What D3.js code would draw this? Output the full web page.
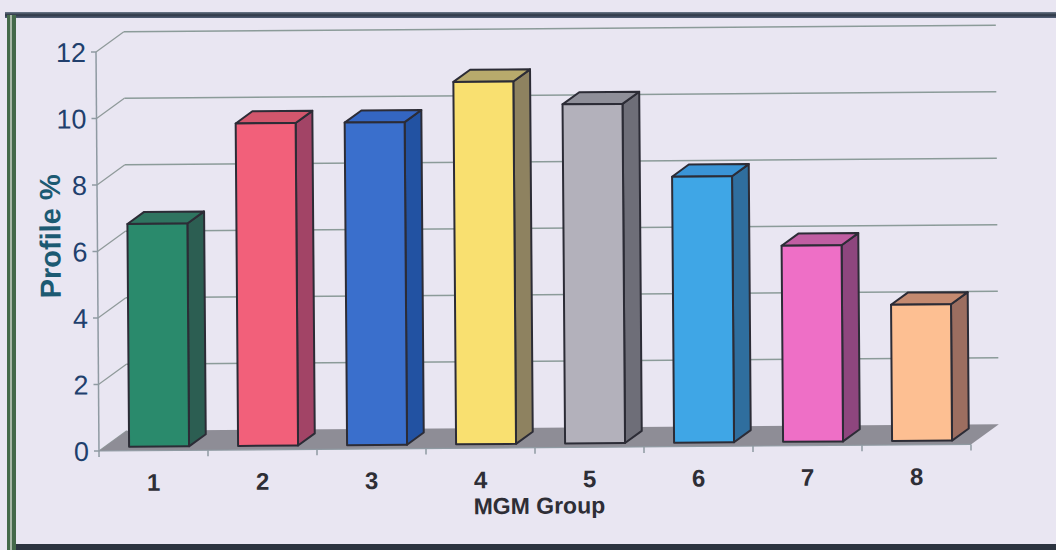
<!DOCTYPE html>
<html>
<head>
<meta charset="utf-8">
<script src="https://cdn.jsdelivr.net/npm/d3@7"></script>
<style>
  html, body { margin: 0; padding: 0; background: #e9e6f2; }
  svg { display: block; }
</style>
</head>
<body>
<svg id="chart" width="1056" height="550"></svg>
<script>
// MGM group profile shares (%)
const groups = ["1", "2", "3", "4", "5", "6", "7", "8"];
const profile = [6.7, 9.7, 9.7, 10.9, 10.2, 8.0, 5.9, 4.1];
const yTicks = [0, 2, 4, 6, 8, 10, 12];

// face colours per column: front, side, top
const frontFill = ["#2a8a6c", "#f2607a", "#3a6fcc", "#f9e070", "#b3b1bb", "#3fa6e6", "#ee6fc6", "#fdbf92"];
const sideFill  = ["#2c5e52", "#a24466", "#2252a2", "#8e8260", "#6e6e78", "#2f6e9e", "#8e467e", "#9c6e60"];
const topFill   = ["#2f7460", "#d2566c", "#3466c2", "#b8aa6c", "#8f8f99", "#3a94d6", "#c05ea2", "#c48a70"];

const svg = d3.select("#chart");

// page frame
svg.append("rect").attr("x", 0).attr("y", 0).attr("width", 1056).attr("height", 550).attr("fill", "#e9e6f2");
const grad = svg.append("defs").append("linearGradient").attr("id", "topBar").attr("x1", 0).attr("y1", 0).attr("x2", 0).attr("y2", 1);
grad.append("stop").attr("offset", "0%").attr("stop-color", "#6d7a8c");
grad.append("stop").attr("offset", "50%").attr("stop-color", "#2c3644");
grad.append("stop").attr("offset", "100%").attr("stop-color", "#55627a");
svg.append("rect").attr("x", 5).attr("y", 12).attr("width", 1051).attr("height", 6).attr("fill", "url(#topBar)");
svg.append("rect").attr("x", 7).attr("y", 15).attr("width", 9).attr("height", 535).attr("fill", "#44694a");
svg.append("rect").attr("x", 10).attr("y", 15).attr("width", 2).attr("height", 535).attr("fill", "#a8b8a8");
svg.append("rect").attr("x", 16).attr("y", 544).attr("width", 1040).attr("height", 6).attr("fill", "#2c3440");

// plot geometry (front plane)
const x0 = 99, x1 = 971, yBase = 451, yTop = 52;
const depthX = 28, depthY = -20;       // full floor depth
const frontF = 0.2, backF = 0.8;       // column position inside the depth

const x = d3.scaleBand().domain(groups).range([x0, x1]).paddingInner(0.45).paddingOuter(0.225);
const y = d3.scaleLinear().domain([0, 12]).range([yBase, yTop]);

// the scanned sheet sits slightly askew
const g = svg.append("g").attr("transform", `rotate(-0.43, ${x0}, ${yBase})`);

// back-wall gridlines
g.selectAll("line.grid").data(yTicks.filter(t => t > 0)).join("line")
  .attr("x1", x0 + depthX).attr("x2", x1 + depthX)
  .attr("y1", d => y(d) + depthY).attr("y2", d => y(d) + depthY)
  .attr("stroke", "#8b9b99").attr("stroke-width", 1.5);

// left-wall diagonals
g.selectAll("line.diag").data(yTicks).join("line")
  .attr("x1", x0).attr("y1", d => y(d))
  .attr("x2", x0 + depthX).attr("y2", d => y(d) + depthY)
  .attr("stroke", "#8f9a9a").attr("stroke-width", 1.2);

// floor
g.append("path")
  .attr("d", `M${x0},${yBase} L${x1},${yBase} L${x1 + depthX},${yBase + depthY} L${x0 + depthX},${yBase + depthY} Z`)
  .attr("fill", "#8e8d96");

// columns
const ox = depthX * frontF, oy = depthY * frontF;
const dx = depthX * (backF - frontF), dy = depthY * (backF - frontF);
const bars = g.selectAll("g.bar").data(groups).join("g").attr("class", "bar");
bars.each(function (grp, i) {
  const b = d3.select(this);
  const left = x(grp) + ox, right = left + x.bandwidth();
  const bottom = y(0) + oy, top = y(profile[i]) + oy;
  const stroke = { stroke: "#2c2c36", "stroke-width": 2, "stroke-linejoin": "round" };
  const face = (d, fill) => {
    const p = b.append("path").attr("d", d).attr("fill", fill);
    Object.entries(stroke).forEach(([k, v]) => p.attr(k, v));
  };
  face(`M${right},${bottom} L${right + dx},${bottom + dy} L${right + dx},${top + dy} L${right},${top} Z`, sideFill[i]);
  face(`M${left},${top} L${left + dx},${top + dy} L${right + dx},${top + dy} L${right},${top} Z`, topFill[i]);
  face(`M${left},${bottom} L${right},${bottom} L${right},${top} L${left},${top} Z`, frontFill[i]);
});

// value axis
g.append("line").attr("x1", x0).attr("x2", x0).attr("y1", y(0)).attr("y2", y(12))
  .attr("stroke", "#8f9aa2").attr("stroke-width", 1.5);
g.selectAll("line.ytick").data(yTicks).join("line")
  .attr("x1", x0 - 5).attr("x2", x0).attr("y1", d => y(d)).attr("y2", d => y(d))
  .attr("stroke", "#8f9aa2").attr("stroke-width", 1.5);
g.selectAll("text.ylab").data(yTicks).join("text")
  .attr("x", x0 - 10).attr("y", d => y(d)).attr("dy", "0.36em")
  .attr("text-anchor", "end")
  .attr("font-family", "Liberation Sans, Arial, sans-serif").attr("font-size", 27)
  .attr("fill", "#213f6d").text(d => d);

// category axis
g.append("line").attr("x1", x0).attr("x2", x1).attr("y1", yBase).attr("y2", yBase)
  .attr("stroke", "#8f9aa2").attr("stroke-width", 1.2);
const edges = groups.map(d => x(d) - x.step() * x.paddingInner() / 2).concat([x1]);
g.selectAll("line.xtick").data(edges).join("line")
  .attr("x1", d => d).attr("x2", d => d).attr("y1", yBase).attr("y2", yBase + 6)
  .attr("stroke", "#8f9aa2").attr("stroke-width", 1.5);
g.selectAll("text.xlab").data(groups).join("text")
  .attr("x", d => x(d) + x.bandwidth() / 2).attr("y", 491)
  .attr("text-anchor", "middle")
  .attr("font-family", "Liberation Sans, Arial, sans-serif").attr("font-size", 24).attr("font-weight", "bold")
  .attr("fill", "#2e2e36").text(d => d);

// axis titles
g.append("text").attr("x", (x0 + x1) / 2 + 4).attr("y", 517)
  .attr("text-anchor", "middle")
  .attr("font-family", "Liberation Sans, Arial, sans-serif").attr("font-size", 23).attr("font-weight", "bold")
  .attr("fill", "#2e2e36").text("MGM Group");
g.append("text").attr("transform", "translate(62,236) rotate(-90)")
  .attr("text-anchor", "middle")
  .attr("font-family", "Liberation Sans, Arial, sans-serif").attr("font-size", 29).attr("font-weight", "bold")
  .attr("fill", "#1c5a72").text("Profile %");
</script>
</body>
</html>
